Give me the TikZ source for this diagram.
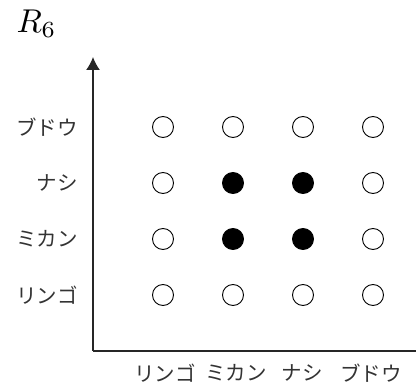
\documentclass[tikz,border=0pt]{standalone}
\usepackage{fontspec}
\usetikzlibrary{arrows.meta}
\newfontfamily\jpfont{Noto Sans CJK JP}
\tikzset{
  emptydot/.style={circle, draw=black, line width=0.9pt, minimum size=21pt, inner sep=0pt},
  fulldot/.style={circle, draw=black, fill=black, line width=0.9pt, minimum size=21pt, inner sep=0pt},
  axisline/.style={line width=1.3pt, draw=black!85},
  jplabel/.style={font=\jpfont\fontsize{20.5}{24}\selectfont, inner sep=0pt, text=black!80}
}
\begin{document}
\begin{tikzpicture}[x=1pt,y=-1pt]
\useasboundingbox (0,0) rectangle (416,385);
% title
\node[anchor=base west, inner sep=0pt, scale=3.3] (title) at (16,33) {$R_6$};
% axes
\coordinate (origin) at (93,351);
\coordinate (ytop) at (93,57);
\coordinate (xend) at (416,351);
\draw[axisline, -{Latex[length=13pt,width=14pt]}] (origin) -- (ytop);
\draw[axisline] (origin) -- (xend);
% y labels
\node[jplabel, anchor=east] (y4) at (78,127) {ブドウ};
\node[jplabel, anchor=east] (y3) at (78,183) {ナシ};
\node[jplabel, anchor=east] (y2) at (78,239) {ミカン};
\node[jplabel, anchor=east] (y1) at (78,295) {リンゴ};
% x labels
\node[jplabel] (x1) at (165,373) {リンゴ};
\node[jplabel] (x2) at (236,373) {ミカン};
\node[jplabel] (x3) at (302,373) {ナシ};
\node[jplabel] (x4) at (371,373) {ブドウ};
% grid of dots
\node[emptydot] (d14) at (163,127) {};
\node[emptydot] (d24) at (233,127) {};
\node[emptydot] (d34) at (303,127) {};
\node[emptydot] (d44) at (373,127) {};
\node[emptydot] (d13) at (163,183) {};
\node[fulldot]  (d23) at (233,183) {};
\node[fulldot]  (d33) at (303,183) {};
\node[emptydot] (d43) at (373,183) {};
\node[emptydot] (d12) at (163,239) {};
\node[fulldot]  (d22) at (233,239) {};
\node[fulldot]  (d32) at (303,239) {};
\node[emptydot] (d42) at (373,239) {};
\node[emptydot] (d11) at (163,295) {};
\node[emptydot] (d21) at (233,295) {};
\node[emptydot] (d31) at (303,295) {};
\node[emptydot] (d41) at (373,295) {};
\end{tikzpicture}
\end{document}
